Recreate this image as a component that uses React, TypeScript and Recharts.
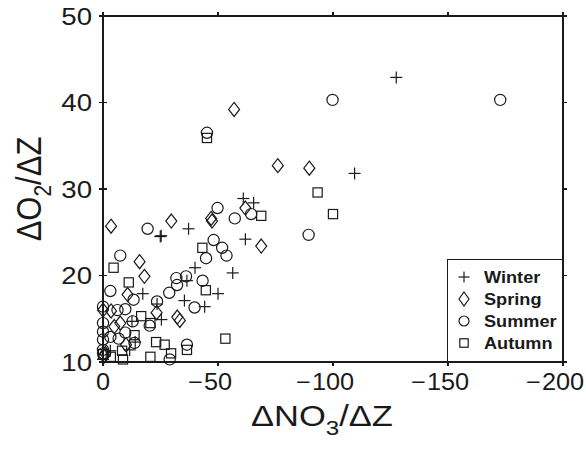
import React from "react";
import { ScatterChart, Scatter, XAxis, YAxis, Legend } from "recharts";

const winter = [
  [-127.5, 42.9], [-109.4, 31.8], [-61, 28.9], [-65.5, 28.4], [-24.9, 24.5], [-25.3, 24.6],
  [-37.2, 25.4], [-61.9, 24.2], [-40, 20.9], [-56.4, 20.3], [-36.5, 19.4], [-17.3, 17.9],
  [-50, 17.9], [-35.4, 17.1], [-44.2, 16.4], [-23.5, 16.7], [-25.4, 14.9], [-12.6, 14.7],
  [-3.2, 11.3], [-11.6, 11.4], [0, 10.3], [-14, 12.3],
];
const spring = [
  [-57, 39.2], [-76, 32.7], [-89.7, 32.4], [-68.8, 23.4], [-3.5, 25.7], [-29.7, 26.3],
  [-47.4, 26.3], [-47, 26.6], [-61.9, 27.8], [-15.9, 21.6], [-18, 19.9], [-10.7, 17.8],
  [-23.3, 15.7], [-32.3, 15.2], [-33.4, 14.8], [0, 16], [-3.5, 15.9], [-4.9, 14.1],
  [-7.5, 14.5], [-1, 11], [-0.5, 10.7], [-10, 12],
];
const summer = [
  [-99.8, 40.3], [-172.7, 40.3], [-45.2, 36.5], [-89.4, 24.7], [-49.8, 27.8], [-57.3, 26.6],
  [-64.4, 27.1], [-19.4, 25.4], [-7.5, 22.3], [-48.1, 24.1], [-51.8, 23.2], [-53.7, 22.3],
  [-44.8, 22], [-36.1, 19.9], [-31.9, 19.7], [-32.2, 18.9], [-43.3, 19.4], [-28.8, 18],
  [-23.5, 17], [-13.3, 17.2], [-3.2, 18.2], [-39.8, 16.3], [-9.7, 16.1], [-6.3, 16],
  [0, 16.4], [-12.9, 14.7], [-20.3, 14.2], [0, 14.5], [0, 13.5], [0, 12.6], [-3.2, 12.9],
  [-9.7, 13.4], [-13.7, 12.2], [-36.5, 12], [0, 11.4], [0, 11], [-29, 10.3], [-6.8, 12.7],
];
const autumn = [
  [-45.2, 35.9], [-93.3, 29.6], [-100, 27.1], [-68.8, 26.9], [-43.2, 23.2], [-44.7, 18.3],
  [-4.6, 20.9], [-11.2, 19.2], [-16.6, 15.3], [-20.6, 14.5], [-13.7, 13.1], [-53.2, 12.7],
  [-23.1, 12.3], [-26.8, 12], [-29.6, 11], [-36.5, 11.4], [-20.6, 10.6], [-8.7, 10.3],
  [-8.3, 11.3], [-3.4, 10.6], [0, 10.9],
];

const xDomain = [-200, 0];
const yDomain = [10, 50];
const xTicks = [0, -50, -100, -150, -200];
const yTicks = [10, 20, 30, 40, 50];
const seriesNames = ["Winter", "Spring", "Summer", "Autumn"];

const toPoints = (arr: number[][]) => arr.map(([x, y]) => ({ x, y }));

const INK = "#1a1a1a";
const FONT = "'Liberation Sans', Arial, sans-serif";
const TICK_LEN = 4;
const LW = 1.2;

// chart layout
const W = 586;
const H = 453;
const MARGIN = { top: 16, right: 23, bottom: 31, left: 0 };
const Y_AXIS_W = 103;
const X_AXIS_H = 60;
const PLOT = {
  left: MARGIN.left + Y_AXIS_W,
  top: MARGIN.top,
  width: W - MARGIN.left - MARGIN.right - Y_AXIS_W,
  height: H - MARGIN.top - MARGIN.bottom - X_AXIS_H,
};

const Plus = ({ cx, cy, s = 6 }: any) => (
  <g stroke={INK} strokeWidth={LW}>
    <line x1={cx - s} y1={cy} x2={cx + s} y2={cy} />
    <line x1={cx} y1={cy - s} x2={cx} y2={cy + s} />
  </g>
);
const Diamond = ({ cx, cy, w = 5.5, h = 7 }: any) => (
  <path
    d={`M${cx},${cy - h}L${cx + w},${cy}L${cx},${cy + h}L${cx - w},${cy}Z`}
    fill="none"
    stroke={INK}
    strokeWidth={LW}
  />
);
const Circ = ({ cx, cy, r = 5.6 }: any) => (
  <circle cx={cx} cy={cy} r={r} fill="none" stroke={INK} strokeWidth={LW} />
);
const Sq = ({ cx, cy, s = 4.6 }: any) => (
  <rect x={cx - s} y={cy - s} width={2 * s} height={2 * s} fill="none" stroke={INK} strokeWidth={LW} />
);

const shapeFor: Record<string, (p: any) => any> = {
  Winter: (p) => <Plus cx={p.cx} cy={p.cy} />,
  Spring: (p) => <Diamond cx={p.cx} cy={p.cy} />,
  Summer: (p) => <Circ cx={p.cx} cy={p.cy} />,
  Autumn: (p) => <Sq cx={p.cx} cy={p.cy} />,
};

const legendSymbol: Record<string, any> = {
  Winter: <Plus cx={8} cy={8} s={5.5} />,
  Spring: <Diamond cx={8} cy={8} w={5} h={7} />,
  Summer: <Circ cx={8} cy={8} r={5} />,
  Autumn: <Sq cx={8} cy={8} s={4.2} />,
};

const LegendBox = () => (
  <div
    style={{
      border: `1.3px solid ${INK}`,
      width: 114,
      height: 96,
      boxSizing: "content-box",
      paddingTop: 6,
      background: "#fff",
    }}
  >
    {seriesNames.map((n) => (
      <div key={n} style={{ display: "flex", alignItems: "center", height: 22, paddingLeft: 8 }}>
        <svg width={16} height={16} style={{ marginRight: 12, flex: "none" }}>
          {legendSymbol[n]}
        </svg>
        <span
          style={{
            fontFamily: FONT,
            fontWeight: "bold",
            fontSize: 16.5,
            color: INK,
            display: "inline-block",
            transform: "scaleX(1.1)",
            transformOrigin: "left center",
            whiteSpace: "nowrap",
          }}
        >
          {n}
        </span>
      </div>
    ))}
  </div>
);

const MINUS = "\u2212";

const XTick = (props: any) => {
  const { x, y, payload } = props;
  const v = payload.value as number;
  const neg = v < 0;
  const digits = String(Math.abs(v));
  return (
    <g transform={`translate(${x},${y}) scale(1.1,1)`}>
      <text x={0} y={28.5} textAnchor="middle" fontFamily={FONT} fontSize={23} fill={INK}>
        {digits}
      </text>
      {neg && (
        <text x={-(digits.length * 23 * 0.556) / 2 - 1} y={28.5} textAnchor="end" fontFamily={FONT} fontSize={23} fill={INK}>
          {MINUS}
        </text>
      )}
    </g>
  );
};

const YTick = (props: any) => {
  const { x, y, payload } = props;
  return (
    <g transform={`translate(${x - 11},${y}) scale(1.15,1)`}>
      <text x={0} y={0} dy="0.355em" textAnchor="end" fontFamily={FONT} fontSize={24} fill={INK}>
        {payload.value}
      </text>
    </g>
  );
};

const XLabel = (props: any) => {
  const { x, y, width } = props.viewBox;
  const cx = x + width / 2 - 11;
  const cy = y + 64;
  return (
    <g transform={`translate(${cx},${cy}) scale(1.15,1)`}>
      <text x={0} y={0} textAnchor="middle" fontFamily={FONT} fontSize={30} fill={INK}>
        <tspan>ΔNO</tspan>
        <tspan fontSize={21} dy={9}>3</tspan>
        <tspan dy={-9}>/ΔZ</tspan>
      </text>
    </g>
  );
};

const YLabel = (props: any) => {
  const { x, y, height } = props.viewBox;
  const cx = x + 41;
  const cy = y + height / 2;
  return (
    <g transform={`translate(${cx},${cy}) scale(1.15,1) rotate(-90)`}>
      <text x={0} y={0} textAnchor="middle" fontFamily={FONT} fontSize={31} fill={INK}>
        <tspan>ΔO</tspan>
        <tspan fontSize={21} dy={9}>2</tspan>
        <tspan dy={-9}>/ΔZ</tspan>
      </text>
    </g>
  );
};

// frame and tick marks as an HTML overlay aligned to the plot box
const xPix = (v: number) => PLOT.left + ((xDomain[1] - v) / (xDomain[1] - xDomain[0])) * PLOT.width;
const yPix = (v: number) => PLOT.top + ((yDomain[1] - v) / (yDomain[1] - yDomain[0])) * PLOT.height;

const bar = (left: number, top: number, width: number, height: number, key: string) => (
  <div key={key} style={{ position: "absolute", left, top, width, height, background: INK }} />
);

const FrameOverlay = () => {
  const h = LW / 2;
  const right = PLOT.left + PLOT.width;
  const bottom = PLOT.top + PLOT.height;
  const items = [
    bar(PLOT.left - h, PLOT.top - h, PLOT.width + LW, LW, "ft"),
    bar(PLOT.left - h, bottom - h, PLOT.width + LW, LW, "fb"),
    bar(PLOT.left - h, PLOT.top - h, LW, PLOT.height + LW, "fl"),
    bar(right - h, PLOT.top - h, LW, PLOT.height + LW, "fr"),
  ];
  xTicks.forEach((v) => {
    items.push(bar(xPix(v) - h, bottom, LW, TICK_LEN, `xb${v}`));
    items.push(bar(xPix(v) - h, PLOT.top - TICK_LEN, LW, TICK_LEN, `xt${v}`));
  });
  yTicks.forEach((v) => {
    items.push(bar(PLOT.left - TICK_LEN, yPix(v) - h, 2 * TICK_LEN, LW, `yl${v}`));
    items.push(bar(right, yPix(v) - h, TICK_LEN, LW, `yr${v}`));
  });
  return (
    <div style={{ position: "absolute", left: 0, top: 0, width: W, height: H, pointerEvents: "none", zIndex: 5 }}>
      {items}
    </div>
  );
};

export default function App() {
  return (
    <div style={{ position: "absolute", left: 0, top: 0, width: W, height: H, background: "#fff" }}>
      <ScatterChart width={W} height={H} margin={MARGIN}>
        <XAxis
          type="number"
          dataKey="x"
          domain={xDomain}
          reversed
          ticks={xTicks}
          tick={<XTick />}
          tickSize={0}
          tickMargin={0}
          height={X_AXIS_H}
          axisLine={false}
          tickLine={false}
          label={<XLabel />}
        />
        <YAxis
          type="number"
          dataKey="y"
          domain={yDomain}
          ticks={yTicks}
          tick={<YTick />}
          tickSize={0}
          tickMargin={0}
          width={Y_AXIS_W}
          axisLine={false}
          tickLine={false}
          label={<YLabel />}
        />
        <Scatter name="Winter" data={toPoints(winter)} shape={shapeFor.Winter} isAnimationActive={false} />
        <Scatter name="Spring" data={toPoints(spring)} shape={shapeFor.Spring} isAnimationActive={false} />
        <Scatter name="Summer" data={toPoints(summer)} shape={shapeFor.Summer} isAnimationActive={false} />
        <Scatter name="Autumn" data={toPoints(autumn)} shape={shapeFor.Autumn} isAnimationActive={false} />
        <Legend
          layout="vertical"
          align="center"
          verticalAlign="middle"
          content={() => <LegendBox />}
          wrapperStyle={{ position: "absolute", left: 447, top: 259, width: 116, height: 103 }}
        />
      </ScatterChart>
      <FrameOverlay />
    </div>
  );
}
